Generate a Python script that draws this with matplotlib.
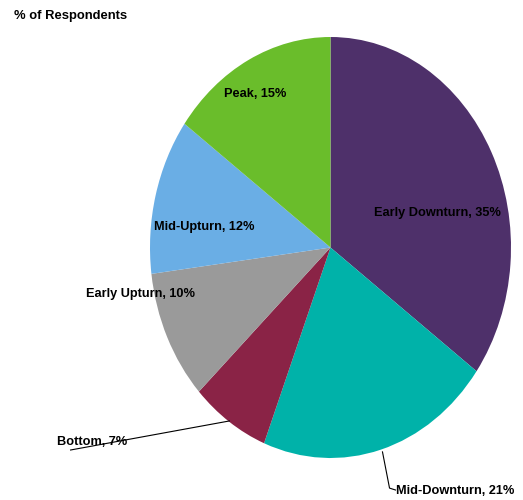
import matplotlib
matplotlib.use('Agg')
import matplotlib.pyplot as plt

plt.rcParams['font.family'] = ['Liberation Sans', 'DejaVu Sans']

# Phase of cycle, % of respondents (clockwise from 12 o'clock)
phases = ['Early Downturn', 'Mid-Downturn', 'Bottom', 'Early Upturn', 'Mid-Upturn', 'Peak']
shares = [35, 21, 7, 10, 12, 15]
colors = ['#4E306A', '#00B2A9', '#8A2346', '#9A9A9A', '#6AAEE5', '#6ABD2B']

# label positions in axes data units (pie radius = 1, ellipse)
label_pos = [(0.59, 0.165), (0.365, -1.157), (-1.32, -0.924),
             (-1.053, -0.221), (-0.698, 0.097), (-0.416, 0.729)]
label_ha = ['center', 'left', 'center', 'center', 'center', 'center']

fig = plt.figure(figsize=(5.23, 5.0), dpi=100)
ax = fig.add_axes([150 / 523, 42 / 500, 361 / 523, 421 / 500])
ax.pie(shares, colors=colors, startangle=90, counterclock=False,
       radius=1, frame=False)
ax.set_aspect('auto')
ax.set_xlim(-1, 1)
ax.set_ylim(-1, 1)

for name, val, (x, y), ha in zip(phases, shares, label_pos, label_ha):
    ax.text(x, y, f'{name}, {val}%', ha=ha, va='center', fontsize=9.2,
            fontweight='bold', color='black', clip_on=False)

# leader lines
ax.plot([0.288, 0.327, 0.36], [-0.971, -1.143, -1.152], color='black',
        lw=0.8, clip_on=False)
ax.plot([-0.560, -1.440], [-0.824, -0.962], color='black', lw=0.8,
        clip_on=False)

fig.text(14 / 523, 1 - 16 / 500, '% of Respondents', ha='left', va='center',
         fontsize=9.4, fontweight='bold')

fig.savefig('out.png', dpi=100)
